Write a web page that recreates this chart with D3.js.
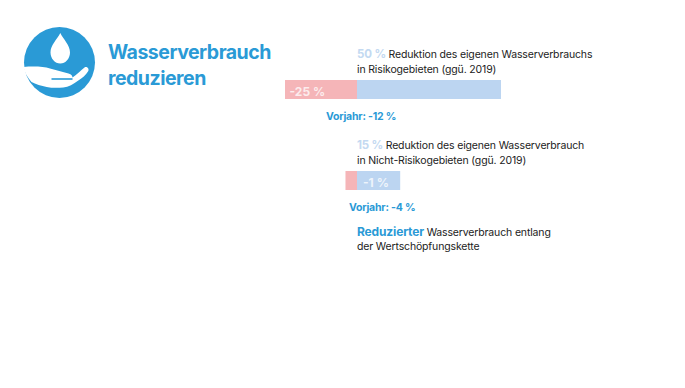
<!DOCTYPE html>
<html>
<head>
    <title>Wasserverbrauch reduzieren</title>
    <script src="https://cdnjs.cloudflare.com/ajax/libs/d3/7.8.5/d3.min.js"></script>
    <style>
        body { margin: 0; background: #fff; font-family: Inter, sans-serif; }
        .title { font-size: 19.5px; font-weight: 700; fill: #2a9ad6; letter-spacing: -0.5px; }
        .note { font-size: 10.5px; fill: #222; letter-spacing: -0.15px; }
        .pct { font-size: 11.5px; font-weight: 700; fill: #c3d9f1; }
        .bar-label { font-size: 12px; font-weight: 700; fill: #fff; opacity: 0.75; }
        .prev { font-size: 10.5px; font-weight: 700; fill: #2a9ad6; letter-spacing: -0.2px; }
        .lead { font-size: 12px; font-weight: 700; fill: #2a9ad6; }
    </style>
</head>
<body>
    <div id="chart"></div>
    <script>
        // values
        const titleLines = ["Wasserverbrauch", "reduzieren"];
        const goals = [50, 15];
        const actuals = [-25, -4];
        const barLabels = ["-25 %", "-1 %"];
        const prevLabels = ["Vorjahr: -12 %", "Vorjahr: -4 %"];
        const goalLabels = ["50 %", "15 %"];
        const noteFirst = ["Reduktion des eigenen Wasserverbrauchs", "Reduktion des eigenen Wasserverbrauch"];
        const noteSecond = ["in Risikogebieten (ggü. 2019)", "in Nicht-Risikogebieten (ggü. 2019)"];
        const bands = ["risk", "nonrisk"];

        const svg = d3.select("#chart").append("svg")
            .attr("width", 685)
            .attr("height", 388)
            .style("display", "block");

        // icon
        const icon = svg.append("g").attr("transform", "translate(59.5,62.5)");
        icon.append("circle").attr("r", 35.5).attr("fill", "#2a9ad6");
        icon.append("path")
            .attr("fill", "#fff")
            .attr("d", "M0.8,-29.5 C4,-23 10.5,-17.5 10.5,-10 C10.5,-3.8 6,1 0.8,1 C-4.5,1 -9,-3.8 -9,-10 C-9,-17.5 -2.5,-23 0.8,-29.5 Z");
        icon.append("path")
            .attr("fill", "#fff")
            .attr("d", "M-36,4.5 C-26,3.5 -16,4 -9.5,6 L9,11 C12,12 13,13.5 13,15 C17,12.5 21,8 25,5 C27,3.5 30,6 28.8,8.5 C26,13 23,15.5 18.8,18 C14,21.5 9,24.5 3.8,25 C-2,25.5 -8,25.5 -12.8,24.5 C-18,23.5 -24,21.5 -28,19.5 C-32,15 -35,10 -36,4.5 Z");
        icon.append("path")
            .attr("fill", "none")
            .attr("stroke", "#2a9ad6")
            .attr("stroke-width", 1.6)
            .attr("d", "M-8,16.5 L13,16.5");

        svg.selectAll(".title")
            .data(titleLines)
            .enter()
            .append("text")
            .attr("class", "title")
            .attr("x", 108)
            .attr("y", (d, i) => 59 + i * 25.5)
            .text(d => d);

        // same scale for both bars
        const x = d3.scaleLinear().domain([-25, 50]).range([285, 501]);
        const y = d3.scaleBand().domain(bands).range([80, 194]).paddingInner(0.8);
        const barTop = i => i === 0 ? 80 : 171;

        svg.selectAll(".goal")
            .data(goals)
            .enter()
            .append("rect")
            .attr("class", "goal")
            .attr("x", x(0))
            .attr("y", (d, i) => barTop(i))
            .attr("width", d => x(d) - x(0))
            .attr("height", y.bandwidth())
            .attr("fill", "#bcd5f1");

        svg.selectAll(".actual")
            .data(actuals)
            .enter()
            .append("rect")
            .attr("class", "actual")
            .attr("x", d => x(d))
            .attr("y", (d, i) => barTop(i))
            .attr("width", d => x(0) - x(d))
            .attr("height", y.bandwidth())
            .attr("fill", "#f5b5b8");

        svg.selectAll(".bar-label")
            .data(barLabels)
            .enter()
            .append("text")
            .attr("class", "bar-label")
            .attr("x", (d, i) => i === 0 ? 289.5 : 363)
            .attr("y", (d, i) => barTop(i) + 16)
            .text(d => d);

        svg.selectAll(".prev")
            .data(prevLabels)
            .enter()
            .append("text")
            .attr("class", "prev")
            .attr("x", (d, i) => i === 0 ? 326 : 349)
            .attr("y", (d, i) => i === 0 ? 120 : 211)
            .text(d => d);

        // two line notes above the bars
        goalLabels.forEach((g, i) => {
            const top = i === 0 ? 58 : 149;
            const t = svg.append("text").attr("class", "note").attr("x", 357).attr("y", top);
            t.append("tspan").attr("class", "pct").text(g + " ");
            t.append("tspan").text(noteFirst[i]);
            svg.append("text").attr("class", "note").attr("x", 357).attr("y", top + 15).text(noteSecond[i]);
        });

        const last = svg.append("text").attr("class", "note").attr("x", 357).attr("y", 236);
        last.append("tspan").attr("class", "lead").text("Reduzierter ");
        last.append("tspan").text("Wasserverbrauch entlang");
        svg.append("text").attr("class", "note").attr("x", 357).attr("y", 250).text("der Wertschöpfungskette");
    </script>
</body>
</html>
